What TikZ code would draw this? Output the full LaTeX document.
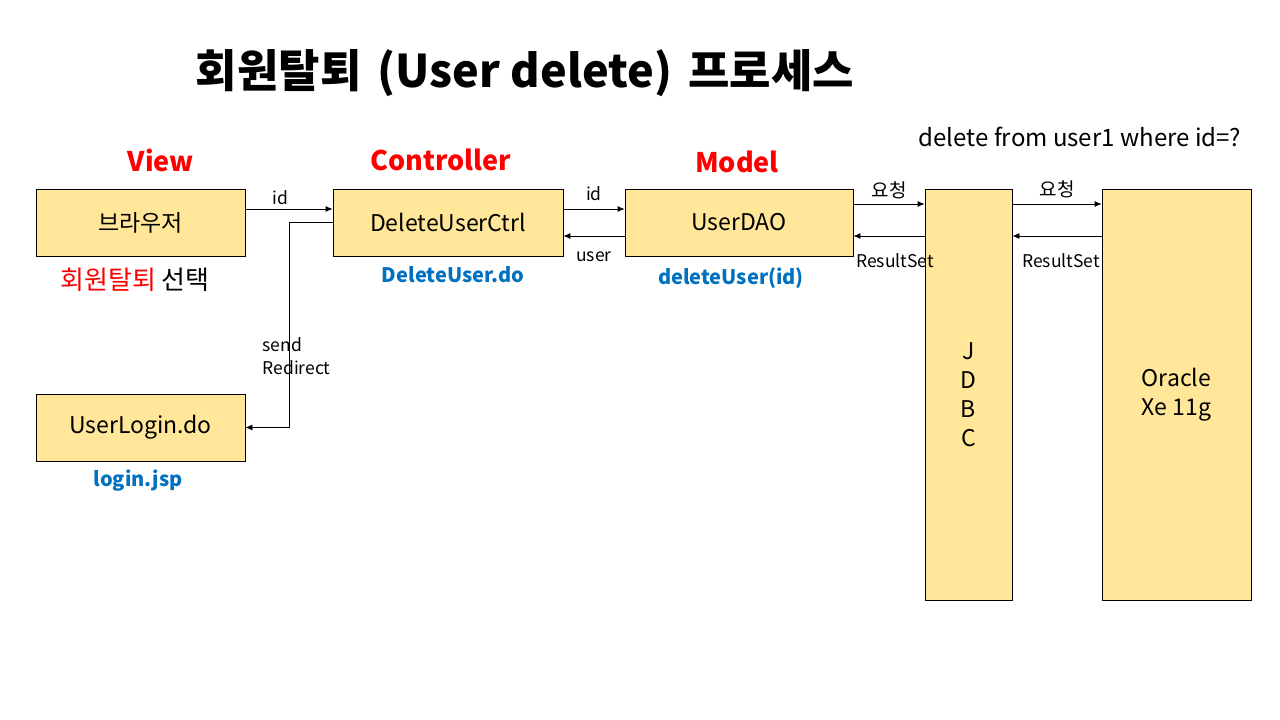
\documentclass[tikz,border=0pt]{standalone}
\usepackage{fontspec}
\setmainfont{Noto Sans CJK KR}
\usetikzlibrary{arrows.meta, positioning, calc}

\definecolor{boxfill}{HTML}{FFE699}
\definecolor{labelred}{HTML}{FF0000}
\definecolor{labelblue}{HTML}{0070C0}

\begin{document}
\begin{tikzpicture}[
    x=1pt, y=-1pt,
    box/.style={
        rectangle,
        draw=black,
        line width=0.8pt,
        fill=boxfill,
        inner sep=0pt,
        align=center,
        font=\fontsize{23}{29}\selectfont
    },
    layer label/.style={
        text=labelred,
        font=\fontsize{27}{32}\selectfont\bfseries
    },
    url label/.style={
        text=labelblue,
        font=\fontsize{20}{24}\selectfont\bfseries
    },
    flow/.style={
        -{Latex[length=7pt, width=6pt]},
        line width=0.8pt
    },
    flow label/.style={
        font=\fontsize{17.5}{23}\selectfont,
        align=left
    }
]
    \useasboundingbox (0,0) rectangle (1280,720);

    \node[font=\fontsize{45}{50}\selectfont\bfseries] (title) at (525,73) {회원탈퇴\hspace{6pt} (User delete)\hspace{6pt} 프로세스};

    % --- MVC layers ---
    \node[layer label] (view) at (161,160) {View};
    \node[layer label] (controller) at (441,160) {Controller};
    \node[layer label] (model) at (737,162) {Model};

    \node[font=\fontsize{24}{29}\selectfont] (query) at (1080,137) {delete from user1 where id=?};

    \node[box, minimum width=209, minimum height=67] (browser) at (140.5,222.5) {브라우저};
    \node[box, minimum width=230, minimum height=67] (ctrl) at (448,222.5) {DeleteUserCtrl};
    \node[box, minimum width=228, minimum height=67] (dao) at (739,222.5) {UserDAO};
    \node[box, minimum width=209, minimum height=67] (login) at (140.5,427.5) {UserLogin.do};
    \node[box, minimum width=87, minimum height=411] (jdbc) at (968.5,394.5) {J\\D\\B\\C};
    \node[box, minimum width=149, minimum height=411] (oracle) at (1176.5,394.5) {Oracle\\Xe 11g};

    \node[font=\fontsize{26}{30}\selectfont] (select) at (135,280) {\textcolor{labelred}{회원탈퇴} 선택};
    \node[url label] (ctrlurl) at (453,275) {DeleteUser.do};
    \node[url label] (daomethod) at (731,278) {deleteUser(id)};
    \node[url label] (loginjsp) at (138,481) {login.jsp};

    % --- requests and responses ---
    \draw[flow] ([yshift=13.5pt]browser.east) -- ([yshift=13.5pt]ctrl.west)
        node[pos=0.4, above=1pt, flow label] {id};
    \draw[flow] (ctrl.west) -- ++(-43,0) |- (login.east);
    \node[flow label, anchor=west] (redirect) at (259,356) {send\\Redirect};

    \draw[flow] ([yshift=13.5pt]ctrl.east) -- ([yshift=13.5pt]dao.west)
        node[midway, above=5pt, flow label] {id};
    \draw[flow] ([yshift=-13.5pt]dao.west) -- ([yshift=-13.5pt]ctrl.east)
        node[midway, below=12pt, flow label] {user};

    \draw[flow] ([yshift=18.5pt]dao.east) -- ([yshift=18.5pt]dao.east -| jdbc.west)
        node[midway, above=1pt, flow label, font=\fontsize{19}{23}\selectfont] {요청};
    \draw[flow] ([yshift=-13.5pt]dao.east -| jdbc.west) -- ([yshift=-13.5pt]dao.east);
    \draw[flow] ([yshift=18.5pt]dao.east -| jdbc.east) -- ([yshift=18.5pt]dao.east -| oracle.west)
        node[midway, above=2pt, flow label, font=\fontsize{19}{23}\selectfont] {요청};
    \draw[flow] ([yshift=-13.5pt]dao.east -| oracle.west) -- ([yshift=-13.5pt]dao.east -| jdbc.east);

    \node[flow label] (rs1) at (895,261) {ResultSet};
    \node[flow label] (rs2) at (1061,261) {ResultSet};

\end{tikzpicture}
\end{document}
